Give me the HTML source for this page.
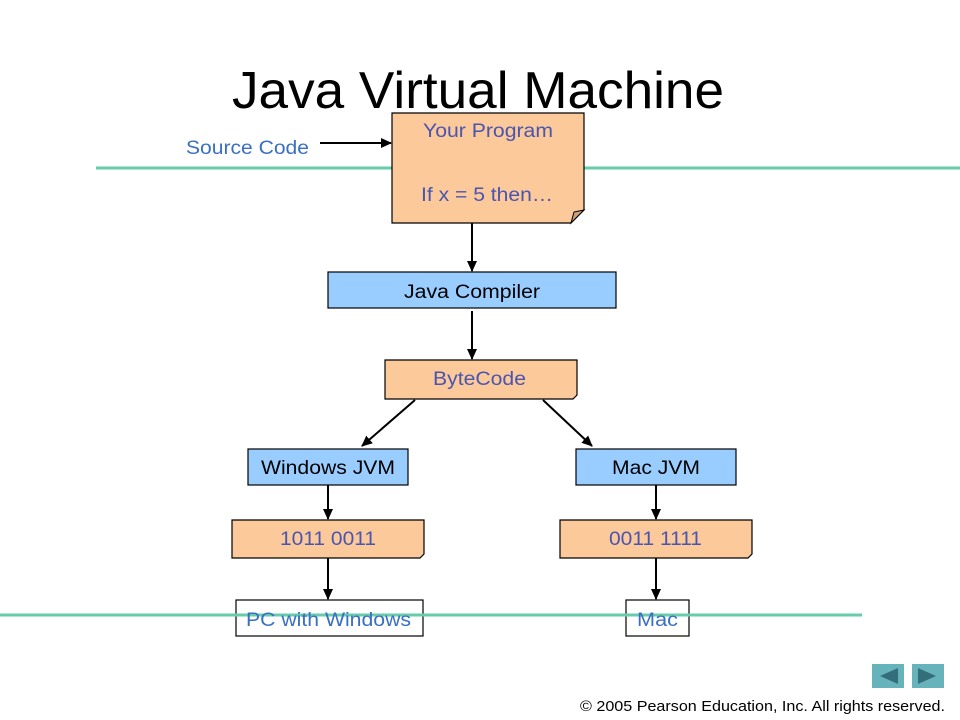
<!DOCTYPE html>
<html><head><meta charset="utf-8"><style>
html,body{margin:0;padding:0;background:#fff;}
svg{display:block;font-family:"Liberation Sans",Arial,sans-serif;}
</style></head><body>
<svg width="960" height="720" viewBox="0 0 960 720" xmlns="http://www.w3.org/2000/svg">
<defs>
<marker id="a" markerWidth="12" markerHeight="12" refX="10" refY="6" orient="auto" markerUnits="userSpaceOnUse">
<path d="M0,1 L11,6 L0,11 z" fill="#000"/>
</marker>
</defs>
<rect width="960" height="720" fill="#fff"/>
<text x="232" y="108" font-size="52" textLength="492" lengthAdjust="spacingAndGlyphs" fill="#000">Java Virtual Machine</text>
<line x1="96" y1="168" x2="960" y2="168" stroke="#66ccaa" stroke-width="3"/>

<text x="186" y="154" font-size="19" textLength="123" lengthAdjust="spacingAndGlyphs" fill="#3a6fc4">Source Code</text>
<line x1="320" y1="143" x2="391" y2="143" stroke="#000" stroke-width="2" marker-end="url(#a)"/>

<path d="M392,113 H584 V210 L571,223 H392 Z" fill="#fbc99a" stroke="#000" stroke-width="1.2"/>
<path d="M571,223 L574,212 L584,210 Z" fill="#c9a07a" stroke="#000" stroke-width="1"/>
<text x="423" y="137" font-size="19" textLength="130" lengthAdjust="spacingAndGlyphs" fill="#4a55b0">Your Program</text>
<text x="421" y="201" font-size="19" textLength="132" lengthAdjust="spacingAndGlyphs" fill="#4a55b0">If x = 5 then…</text>

<line x1="472" y1="223" x2="472" y2="271" stroke="#000" stroke-width="2" marker-end="url(#a)"/>
<rect x="328" y="272" width="288" height="36" fill="#99ccff" stroke="#000" stroke-width="1.2"/>
<text x="404" y="298" font-size="19" textLength="136" lengthAdjust="spacingAndGlyphs" fill="#000">Java Compiler</text>

<line x1="472" y1="311" x2="472" y2="359" stroke="#000" stroke-width="2" marker-end="url(#a)"/>
<path d="M385,360 H577 V395 L573,399 H385 Z" fill="#fbc99a" stroke="#000" stroke-width="1.2"/>
<text x="433" y="385" font-size="19" textLength="93" lengthAdjust="spacingAndGlyphs" fill="#4a55b0">ByteCode</text>

<line x1="415" y1="400" x2="362" y2="446" stroke="#000" stroke-width="2" marker-end="url(#a)"/>
<line x1="543" y1="400" x2="592" y2="446" stroke="#000" stroke-width="2" marker-end="url(#a)"/>

<rect x="248" y="449" width="160" height="36" fill="#99ccff" stroke="#000" stroke-width="1.2"/>
<text x="261" y="474" font-size="19" textLength="134" lengthAdjust="spacingAndGlyphs" fill="#000">Windows JVM</text>
<rect x="576" y="449" width="160" height="36" fill="#99ccff" stroke="#000" stroke-width="1.2"/>
<text x="612" y="474" font-size="19" textLength="88" lengthAdjust="spacingAndGlyphs" fill="#000">Mac JVM</text>

<line x1="328" y1="485" x2="328" y2="519" stroke="#000" stroke-width="2" marker-end="url(#a)"/>
<line x1="656" y1="485" x2="656" y2="519" stroke="#000" stroke-width="2" marker-end="url(#a)"/>

<path d="M232,520 H424 V554 L420,558 H232 Z" fill="#fbc99a" stroke="#000" stroke-width="1.2"/>
<text x="280" y="545" font-size="19" textLength="96" lengthAdjust="spacingAndGlyphs" fill="#4a55b0">1011 0011</text>
<path d="M560,520 H752 V554 L748,558 H560 Z" fill="#fbc99a" stroke="#000" stroke-width="1.2"/>
<text x="609" y="545" font-size="19" textLength="93" lengthAdjust="spacingAndGlyphs" fill="#4a55b0">0011 1111</text>

<line x1="328" y1="558" x2="328" y2="599" stroke="#000" stroke-width="2" marker-end="url(#a)"/>
<line x1="656" y1="558" x2="656" y2="599" stroke="#000" stroke-width="2" marker-end="url(#a)"/>

<rect x="236" y="600" width="187" height="36" fill="#fff" stroke="#000" stroke-width="1.2"/>
<rect x="626" y="600" width="63" height="36" fill="#fff" stroke="#000" stroke-width="1.2"/>
<line x1="0" y1="615" x2="862" y2="615" stroke="#66ccaa" stroke-width="3"/>
<text x="246" y="626" font-size="19" textLength="165" lengthAdjust="spacingAndGlyphs" fill="#3a6fc4">PC with Windows</text>
<text x="637" y="626" font-size="19" textLength="41" lengthAdjust="spacingAndGlyphs" fill="#3a6fc4">Mac</text>

<rect x="872" y="664" width="32" height="24" fill="#66b3bb"/>
<path d="M880,676 L898,668 V684 Z" fill="#336f7a"/>
<rect x="912" y="664" width="32" height="24" fill="#66b3bb"/>
<path d="M936,676 L918,668 V684 Z" fill="#336f7a"/>
<text x="580" y="711" font-size="15" textLength="365" lengthAdjust="spacingAndGlyphs" fill="#000">© 2005 Pearson Education, Inc.  All rights reserved.</text>
</svg>
</body></html>
